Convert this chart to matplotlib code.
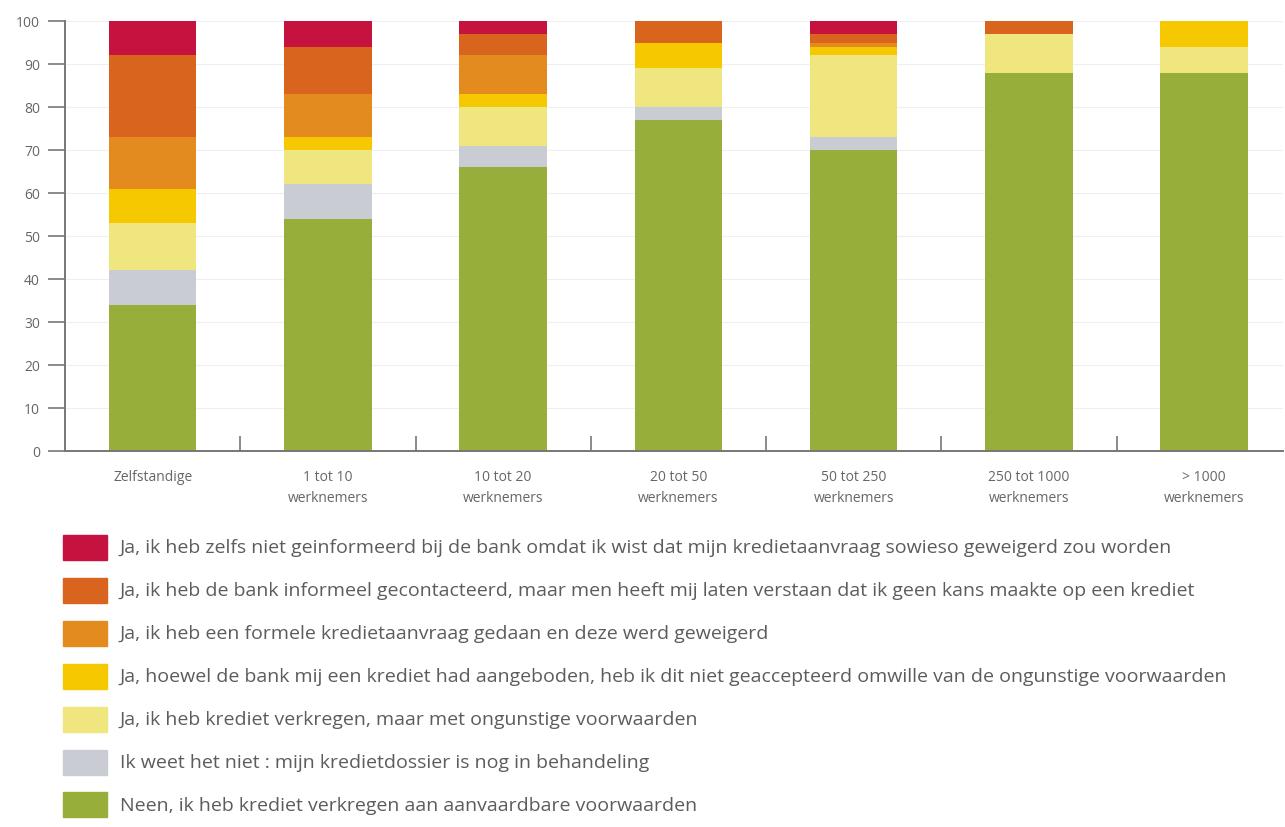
import matplotlib.pyplot as plt
from matplotlib.patches import Rectangle

plt.rcParams['font.family'] = ['Open Sans', 'DejaVu Sans']

categories = ['Zelfstandige', '1 tot 10\nwerknemers', '10 tot 20\nwerknemers',
              '20 tot 50\nwerknemers', '50 tot 250\nwerknemers',
              '250 tot 1000\nwerknemers', '> 1000\nwerknemers']

# percentages per answer, bottom of the stack first
neen = [34, 54, 66, 77, 70, 88, 88]
weet_niet = [8, 8, 5, 3, 3, 0, 0]
ongunstig = [11, 8, 9, 9, 19, 9, 6]
geweigerd_zelf = [8, 3, 3, 6, 2, 0, 6]
formeel = [12, 10, 9, 0, 1, 0, 0]
informeel = [19, 11, 5, 5, 2, 3, 0]
niet_geinformeerd = [8, 6, 3, 0, 3, 0, 0]

series = [
    (neen, '#98ae3a', 'Neen, ik heb krediet verkregen aan aanvaardbare voorwaarden'),
    (weet_niet, '#c9cdd3', 'Ik weet het niet : mijn kredietdossier is nog in behandeling'),
    (ongunstig, '#f0e680', 'Ja, ik heb krediet verkregen, maar met ongunstige voorwaarden'),
    (geweigerd_zelf, '#f5c800', 'Ja, hoewel de bank mij een krediet had aangeboden, heb ik dit niet '
                                'geaccepteerd omwille van de ongunstige voorwaarden'),
    (formeel, '#e38b1e', 'Ja, ik heb een formele kredietaanvraag gedaan en deze werd geweigerd'),
    (informeel, '#d8641e', 'Ja, ik heb de bank informeel gecontacteerd, maar men heeft mij laten '
                           'verstaan dat ik geen kans maakte op een krediet'),
    (niet_geinformeerd, '#c5123f', 'Ja, ik heb zelfs niet geinformeerd bij de bank omdat ik wist '
                                   'dat mijn kredietaanvraag sowieso geweigerd zou worden'),
]

W, H = 1285, 828
fig = plt.figure(figsize=(W / 100, H / 100), dpi=100)
ax = fig.add_axes([65 / W, 1 - 452 / H, (1283 - 65) / W, (452 - 22) / H])

x = list(range(len(categories)))
bottom = [0] * len(categories)
for values, color, label in series:
    ax.bar(x, values, width=0.5, bottom=bottom, color=color, zorder=2)
    bottom = [b + v for b, v in zip(bottom, values)]

ax.set_xlim(-0.5, 6.45)
ax.set_ylim(0, 100)
ax.set_yticks(range(0, 101, 10))
ax.yaxis.grid(True, color='#efefef', linewidth=0.8, zorder=0)

ax.set_xticks(x)
ax.set_xticklabels(categories, fontsize=10, color='#666666', linespacing=1.5)
ax.set_xticks([i + 0.5 for i in range(len(categories) - 1)], minor=True)
ax.tick_params(axis='x', which='major', length=0, pad=13)
ax.tick_params(axis='x', which='minor', direction='in', length=11, width=1.2, color='#777777')
ax.tick_params(axis='y', length=12, width=1.2, color='#777777', labelsize=10,
               labelcolor='#666666', pad=6)

for side in ('top', 'right'):
    ax.spines[side].set_visible(False)
for side in ('left', 'bottom'):
    ax.spines[side].set_color('#777777')
    ax.spines[side].set_linewidth(1.4)

# legend, drawn as a list of swatches below the chart
lax = fig.add_axes([0, 0, 1, 1])
lax.set_xlim(0, W)
lax.set_ylim(H, 0)
lax.axis('off')
row_y = 548
for values, color, label in reversed(series):
    lax.add_patch(Rectangle((63, row_y - 12.5), 44, 25, color=color))
    lax.text(120, row_y, label, fontsize=14, color='#5c5c5c', va='center', ha='left')
    row_y += 43

fig.savefig('out.png', dpi=100)
